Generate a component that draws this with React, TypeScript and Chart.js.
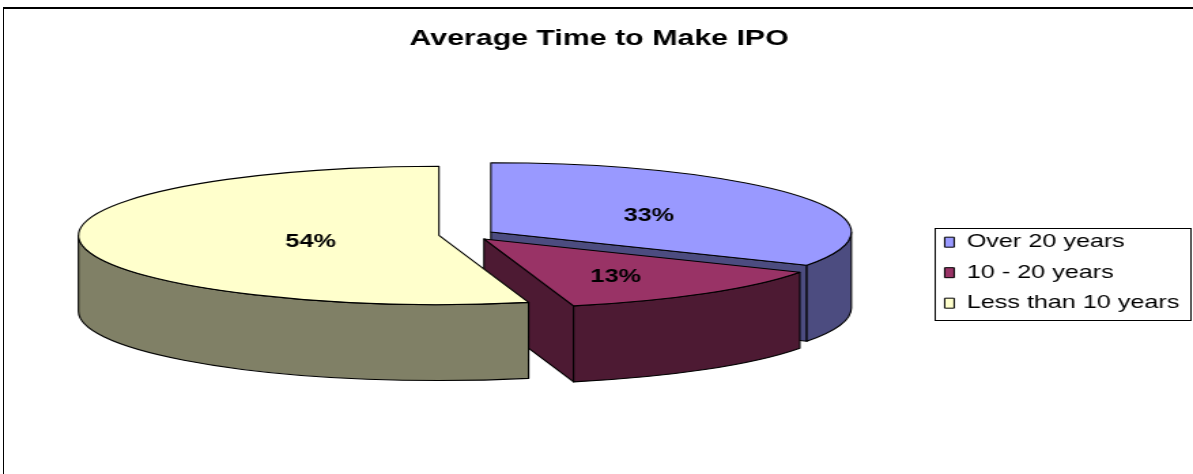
import React, { useEffect, useRef } from 'react';
import { Chart, registerables } from 'chart.js';

Chart.register(...registerables);

// ---------- data ----------
const TITLE = 'Average Time to Make IPO';
const categories = ['Over 20 years', '10 - 20 years', 'Less than 10 years'];
const shares = [33, 13, 54];
const faceColors = ['#9999FF', '#993366', '#FFFFCC'];
const sideColors = ['#4C4C80', '#4D1A33', '#808066'];

// ---------- layout / style ----------
const PAGE_W = 1193;
const PAGE_H = 474;
const STRETCH = 1.36; // the reference is drawn horizontally stretched
const CANVAS_W = Math.round(PAGE_W / STRETCH);
const FONT = '"Liberation Sans", Arial, Helvetica, sans-serif';

const PIE_RADIUS = 265;
const TILT = 0.261;
const DEPTH = 76;
const EXPLODE = 20.6;

function frontIntervals(s: number, e: number): number[][] {
  const out: number[][] = [];
  for (let k = -1; k <= 1; k++) {
    const a = Math.max(s, k * 2 * Math.PI);
    const b = Math.min(e, k * 2 * Math.PI + Math.PI);
    if (b > a + 1e-6) out.push([a, b]);
  }
  return out;
}

const pie3dPlugin = {
  id: 'pie3d',
  beforeDatasetsDraw(chart: any) {
    const meta = chart.getDatasetMeta(0);
    const ctx = chart.ctx as CanvasRenderingContext2D;
    const values = chart.data.datasets[0].data as number[];
    const total = values.reduce((a, b) => a + b, 0);
    const slices = meta.data.map((arc: any, i: number) => {
      const p = arc.getProps(['x', 'y', 'startAngle', 'endAngle', 'outerRadius'], true);
      const mid = (p.startAngle + p.endAngle) / 2;
      return {
        arc,
        i,
        x: p.x,
        y: p.y,
        s: p.startAngle,
        e: p.endAngle,
        R: p.outerRadius,
        mid,
        ax: p.x + Math.cos(mid) * EXPLODE,
        ay: p.y - DEPTH / 2 + Math.sin(mid) * EXPLODE * TILT,
      };
    });

    ctx.save();
    ctx.lineJoin = 'round';
    ctx.lineWidth = 1.1;
    ctx.strokeStyle = '#000';

    // side walls
    for (const sl of slices) {
      const ry = sl.R * TILT;
      ctx.fillStyle = sideColors[sl.i];
      const faces: number[] = [];
      if (Math.cos(sl.s) < -1e-6) faces.push(sl.s);
      if (Math.cos(sl.e) > 1e-6) faces.push(sl.e);
      for (const t of faces) {
        const rx = sl.ax + sl.R * Math.cos(t);
        const rym = sl.ay + ry * Math.sin(t);
        ctx.beginPath();
        ctx.moveTo(sl.ax, sl.ay);
        ctx.lineTo(rx, rym);
        ctx.lineTo(rx, rym + DEPTH);
        ctx.lineTo(sl.ax, sl.ay + DEPTH);
        ctx.closePath();
        ctx.fill();
        ctx.stroke();
      }
      for (const [a, b] of frontIntervals(sl.s, sl.e)) {
        ctx.beginPath();
        ctx.ellipse(sl.ax, sl.ay, sl.R, ry, 0, a, b, false);
        ctx.lineTo(sl.ax + sl.R * Math.cos(b), sl.ay + ry * Math.sin(b) + DEPTH);
        ctx.ellipse(sl.ax, sl.ay + DEPTH, sl.R, ry, 0, b, a, true);
        ctx.closePath();
        ctx.fill();
        ctx.stroke();
      }
    }

    // top faces (filled by the library's arc element, outlined here)
    for (const sl of slices) {
      const ry = sl.R * TILT;
      ctx.save();
      ctx.translate(sl.ax, sl.ay);
      ctx.scale(1, TILT);
      ctx.translate(-sl.x, -sl.y);
      sl.arc.draw(ctx);
      ctx.restore();
      ctx.beginPath();
      ctx.moveTo(sl.ax, sl.ay);
      ctx.ellipse(sl.ax, sl.ay, sl.R, ry, 0, sl.s, sl.e, false);
      ctx.closePath();
      ctx.stroke();
    }

    // percentage labels near sector centroids
    ctx.fillStyle = '#000';
    ctx.font = `bold 18.5px ${FONT}`;
    ctx.textAlign = 'center';
    ctx.textBaseline = 'middle';
    for (const sl of slices) {
      const half = (sl.e - sl.s) / 2;
      const d = ((2 / 3) * sl.R * Math.sin(half)) / half;
      const lx = sl.ax + Math.cos(sl.mid) * d * 0.92;
      const ly = sl.ay + Math.sin(sl.mid) * d * TILT + 3;
      ctx.fillText(`${Math.round((100 * values[sl.i]) / total)}%`, lx, ly);
    }
    ctx.restore();
    return false;
  },
};

const legendFramePlugin = {
  id: 'legendFrame',
  afterDraw(chart: any) {
    const hb = chart.legend && chart.legend.legendHitBoxes;
    if (!hb || !hb.length) return;
    const ctx = chart.ctx as CanvasRenderingContext2D;
    let left = Infinity;
    let right = -Infinity;
    for (const h of hb) {
      left = Math.min(left, h.left);
      right = Math.max(right, h.left + h.width);
    }
    const top = hb[0].top - 5;
    const last = hb[hb.length - 1];
    const bottom = last.top + last.height + 7;
    ctx.save();
    ctx.strokeStyle = '#000';
    ctx.lineWidth = 1;
    ctx.strokeRect(Math.round(left - 7) + 0.5, Math.round(top) + 0.5, Math.round(right + 8 - (left - 7)), Math.round(bottom - top));
    ctx.restore();
  },
};

export default function App() {
  const canvasRef = useRef<HTMLCanvasElement | null>(null);

  useEffect(() => {
    const canvas = canvasRef.current;
    if (!canvas) return;
    const chart = new Chart(canvas, {
      type: 'pie',
      data: {
        labels: categories,
        datasets: [
          {
            data: shares,
            backgroundColor: faceColors,
            borderWidth: 0,
            radius: PIE_RADIUS,
          } as any,
        ],
      },
      options: {
        responsive: false,
        animation: false,
        devicePixelRatio: 1,
        events: [],
        layout: { padding: { left: 3.8, right: 0, top: 0, bottom: 0 } },
        plugins: {
          title: {
            display: true,
            text: TITLE,
            color: '#000',
            font: { family: FONT, size: 22.3, weight: 'bold' },
            padding: { top: 25, bottom: 19.6 },
          },
          legend: {
            display: true,
            position: 'right',
            align: 'center',
            fullSize: false,
            labels: {
              color: '#000',
              font: { family: FONT, size: 18.5 },
              boxWidth: 7,
              boxHeight: 10,
              padding: 12,
              generateLabels: (c: any) =>
                (c.data.labels as string[]).map((text, i) => ({
                  text,
                  fillStyle: faceColors[i],
                  strokeStyle: '#000',
                  lineWidth: 1,
                  fontColor: '#000',
                  hidden: false,
                  index: i,
                })),
            },
          },
          tooltip: { enabled: false },
        },
      } as any,
      plugins: [pie3dPlugin, legendFramePlugin],
    });
    return () => chart.destroy();
  }, []);

  return (
    <div
      style={{
        position: 'fixed',
        left: 0,
        top: 0,
        width: PAGE_W,
        height: PAGE_H,
        overflow: 'hidden',
        background: '#fff',
      }}
    >
      <div
        style={{
          position: 'absolute',
          left: 3,
          top: 7,
          width: PAGE_W + 20,
          height: PAGE_H + 20,
          borderTop: '2px solid #000',
          borderLeft: '1px solid #000',
          boxSizing: 'border-box',
        }}
      />
      <canvas
        ref={canvasRef}
        width={CANVAS_W}
        height={PAGE_H}
        style={{ position: 'absolute', left: 0, top: 0, width: PAGE_W + 'px', height: PAGE_H + 'px', display: 'block' }}
      />
    </div>
  );
}
